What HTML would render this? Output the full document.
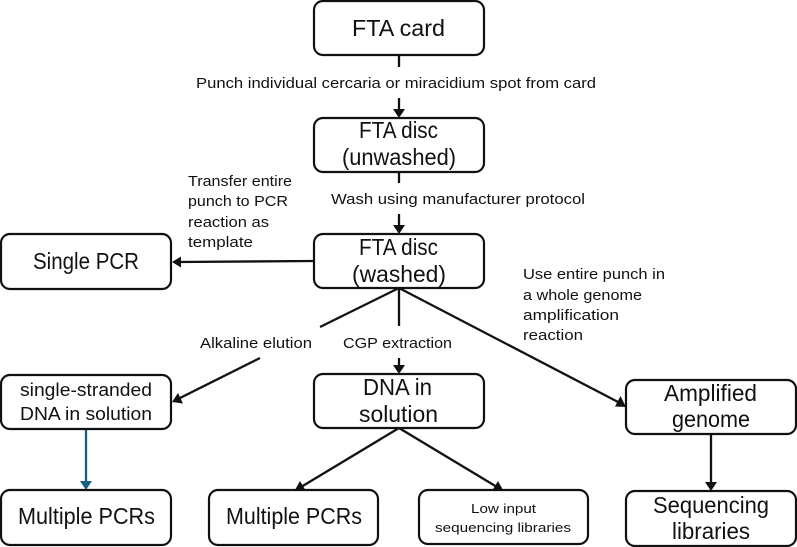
<!DOCTYPE html>
<html>
<head>
<meta charset="utf-8">
<style>
html,body{margin:0;padding:0;background:#fff}
svg{display:block}
text{font-family:"Liberation Sans",sans-serif;fill:#111}
rect{fill:#fff;stroke:#111;stroke-width:2.2}
line{stroke:#111;stroke-width:2.3}
.a{fill:#111}
</style>
</head>
<body>
<svg width="797" height="547" viewBox="0 0 797 547" xmlns="http://www.w3.org/2000/svg">
<g>
<line x1="399" y1="55" x2="399" y2="67"/>
<line x1="399" y1="98" x2="399" y2="112"/>
<polygon class="a" points="393,109 405,109 399,118"/>
<line x1="399" y1="172" x2="399" y2="183"/>
<line x1="399" y1="214" x2="399" y2="228"/>
<polygon class="a" points="393,225 405,225 399,234"/>
<line x1="314" y1="261" x2="178" y2="262"/>
<polygon class="a" points="172,262 181,256.5 181,267.5"/>
<line x1="399" y1="288" x2="399" y2="326"/>
<line x1="399" y1="358" x2="399" y2="368"/>
<polygon class="a" points="393,365 405,365 399,374"/>
<line x1="399" y1="288" x2="320" y2="327"/>
<line x1="260" y1="358" x2="178" y2="399"/>
<polygon class="a" points="172,402 178,393 183,403.5"/>
<line x1="399" y1="288" x2="620" y2="403"/>
<polygon class="a" points="626,407 615,406.5 620.5,396"/>
<line x1="399" y1="428" x2="301" y2="487"/>
<polygon class="a" points="295,490 300,481 306,491"/>
<line x1="399" y1="428" x2="497" y2="487"/>
<polygon class="a" points="503,490 492,491 498,481"/>
<line x1="86" y1="429" x2="86" y2="484" style="stroke:#156082"/>
<polygon points="80,481 92,481 86,490" style="fill:#156082"/>
<line x1="711" y1="434" x2="711" y2="485"/>
<polygon class="a" points="705,482 717,482 711,491"/>
</g>
<g>
<rect x="314" y="1" width="170" height="54" rx="9"/>
<rect x="314" y="118" width="170" height="54" rx="9"/>
<rect x="314" y="234" width="170" height="54" rx="9"/>
<rect x="1" y="234" width="170" height="55" rx="9"/>
<rect x="1" y="375" width="170" height="54" rx="9"/>
<rect x="314" y="374" width="170" height="54" rx="9"/>
<rect x="1" y="490" width="170" height="55" rx="9"/>
<rect x="209" y="490" width="169" height="55" rx="9"/>
<rect x="419" y="490" width="169" height="54" rx="9"/>
<rect x="626" y="380" width="170" height="54" rx="9"/>
<rect x="626" y="491" width="170" height="55" rx="9"/>
</g>
<g font-size="23">
<text x="352" y="36" textLength="93" lengthAdjust="spacingAndGlyphs">FTA card</text>
<text x="359" y="138" textLength="79" lengthAdjust="spacingAndGlyphs">FTA disc</text>
<text x="342" y="165" textLength="114" lengthAdjust="spacingAndGlyphs">(unwashed)</text>
<text x="359" y="255" textLength="79" lengthAdjust="spacingAndGlyphs">FTA disc</text>
<text x="352" y="282" textLength="94" lengthAdjust="spacingAndGlyphs">(washed)</text>
<text x="33" y="269" textLength="106" lengthAdjust="spacingAndGlyphs">Single PCR</text>
<text x="18" y="524" textLength="137" lengthAdjust="spacingAndGlyphs">Multiple PCRs</text>
<text x="226" y="524" textLength="136" lengthAdjust="spacingAndGlyphs">Multiple PCRs</text>
<text x="363" y="395" textLength="69" lengthAdjust="spacingAndGlyphs">DNA in</text>
<text x="359" y="422" textLength="79" lengthAdjust="spacingAndGlyphs">solution</text>
<text x="664" y="401" textLength="93" lengthAdjust="spacingAndGlyphs">Amplified</text>
<text x="672" y="427" textLength="78" lengthAdjust="spacingAndGlyphs">genome</text>
<text x="653" y="513" textLength="116" lengthAdjust="spacingAndGlyphs">Sequencing</text>
<text x="672" y="539" textLength="78" lengthAdjust="spacingAndGlyphs">libraries</text>
</g>
<g font-size="18">
<text x="20" y="396" textLength="132" lengthAdjust="spacingAndGlyphs">single-stranded</text>
<text x="20" y="420" textLength="132" lengthAdjust="spacingAndGlyphs">DNA in solution</text>
</g>
<g font-size="15">
<text x="196" y="88" textLength="400" lengthAdjust="spacingAndGlyphs">Punch individual cercaria or miracidium spot from card</text>
<text x="331" y="204" textLength="254" lengthAdjust="spacingAndGlyphs">Wash using manufacturer protocol</text>
<text x="188" y="186" textLength="104" lengthAdjust="spacingAndGlyphs">Transfer entire</text>
<text x="188" y="206" textLength="100" lengthAdjust="spacingAndGlyphs">punch to PCR</text>
<text x="188" y="227" textLength="81" lengthAdjust="spacingAndGlyphs">reaction as</text>
<text x="188" y="247" textLength="65" lengthAdjust="spacingAndGlyphs">template</text>
<text x="200" y="348" textLength="112" lengthAdjust="spacingAndGlyphs">Alkaline elution</text>
<text x="343" y="348" textLength="109" lengthAdjust="spacingAndGlyphs">CGP extraction</text>
<text x="523" y="279" textLength="142" lengthAdjust="spacingAndGlyphs">Use entire punch in</text>
<text x="523" y="300" textLength="119" lengthAdjust="spacingAndGlyphs">a whole genome</text>
<text x="523" y="320" textLength="96" lengthAdjust="spacingAndGlyphs">amplification</text>
<text x="523" y="340" textLength="60" lengthAdjust="spacingAndGlyphs">reaction</text>
</g>
<g font-size="13">
<text x="471" y="513" textLength="65" lengthAdjust="spacingAndGlyphs">Low input</text>
<text x="435" y="532" textLength="136" lengthAdjust="spacingAndGlyphs">sequencing libraries</text>
</g>
</svg>
</body>
</html>
